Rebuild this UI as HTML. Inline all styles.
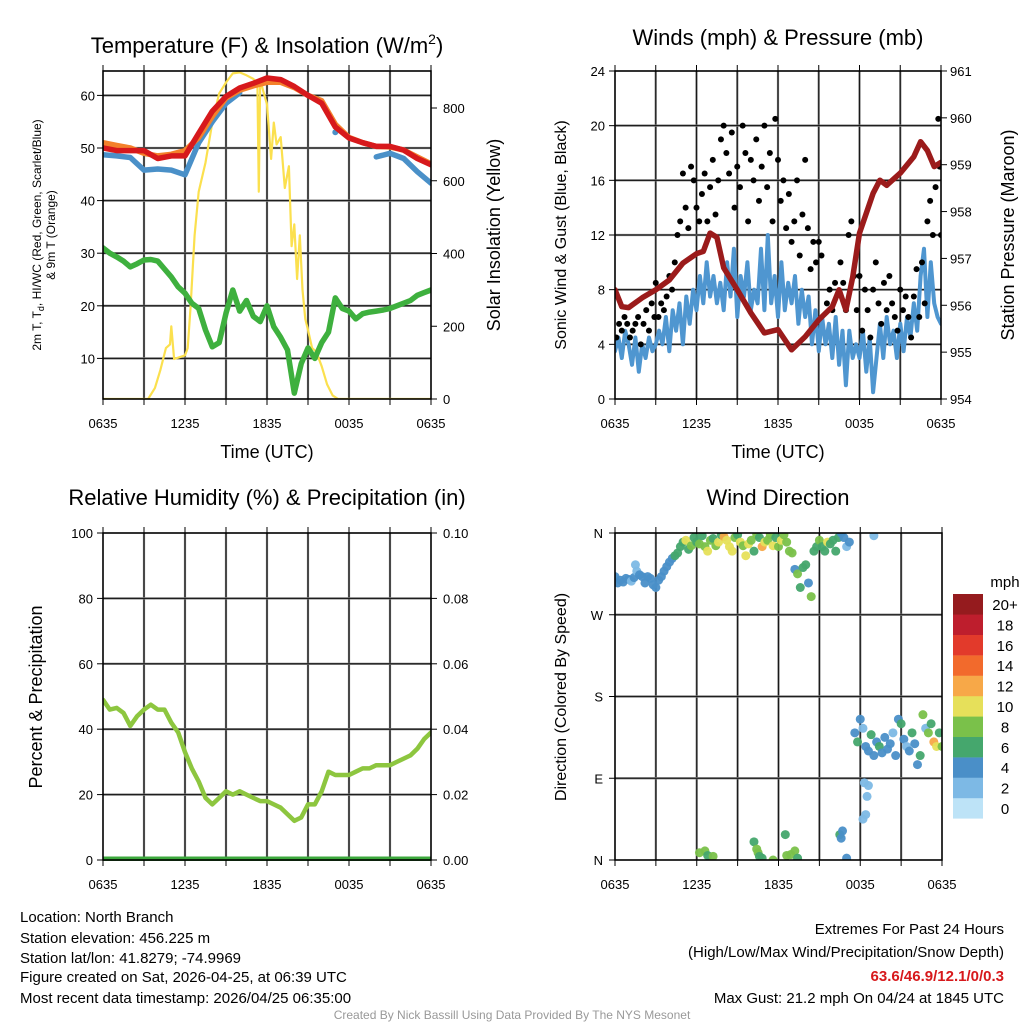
<!DOCTYPE html>
<html><head><meta charset="utf-8"><style>
html,body{margin:0;padding:0;background:#fff;}
svg{display:block;font-family:"Liberation Sans",Arial,sans-serif;}
</style></head><body>
<svg id="chart" width="1024" height="1024" viewBox="0 0 1024 1024" xmlns="http://www.w3.org/2000/svg">
<defs>
<clipPath id="c1"><rect x="103" y="71" width="328" height="328"/></clipPath>
<clipPath id="c2"><rect x="615" y="71" width="326" height="328"/></clipPath>
<clipPath id="c3"><rect x="103" y="533" width="328" height="328"/></clipPath>
<clipPath id="c4"><rect x="615" y="533" width="327" height="327"/></clipPath>
</defs>
<g id="layer"></g>
<text x="267" y="53" font-size="22" text-anchor="middle">Temperature (F) &amp; Insolation (W/m<tspan dy="-9" font-size="14">2</tspan><tspan dy="9">)</tspan></text>
<text x="778" y="45" font-size="22" text-anchor="middle">Winds (mph) &amp; Pressure (mb)</text>
<text x="267" y="505" font-size="22" text-anchor="middle">Relative Humidity (%) &amp; Precipitation (in)</text>
<text x="778" y="505" font-size="22" text-anchor="middle">Wind Direction</text>
<text x="267" y="458" font-size="18" text-anchor="middle">Time (UTC)</text>
<text x="778" y="458" font-size="18" text-anchor="middle">Time (UTC)</text>
<text transform="translate(41,235) rotate(-90)" font-size="12" text-anchor="middle">2m T, T<tspan dy="3" font-size="9">d</tspan><tspan dy="-3">, HI/WC (Red, Green, Scarlet/Blue)</tspan></text>
<text transform="translate(55,235) rotate(-90)" font-size="12" text-anchor="middle">&amp; 9m T (Orange)</text>
<text transform="translate(500,235) rotate(-90)" font-size="18" text-anchor="middle">Solar Insolation (Yellow)</text>
<text transform="translate(566,235) rotate(-90)" font-size="16" text-anchor="middle">Sonic Wind &amp; Gust (Blue, Black)</text>
<text transform="translate(1014,235) rotate(-90)" font-size="18" text-anchor="middle">Station Pressure (Maroon)</text>
<text transform="translate(42,697) rotate(-90)" font-size="18" text-anchor="middle">Percent &amp; Precipitation</text>
<text transform="translate(566,697) rotate(-90)" font-size="16" text-anchor="middle">Direction (Colored By Speed)</text>
<g font-size="15">
<text x="20" y="922">Location: North Branch</text>
<text x="20" y="943">Station elevation: 456.225 m</text>
<text x="20" y="963">Station lat/lon: 41.8279; -74.9969</text>
<text x="20" y="982">Figure created on Sat, 2026-04-25, at 06:39 UTC</text>
<text x="20" y="1003">Most recent data timestamp: 2026/04/25 06:35:00</text>
</g>
<g font-size="15" text-anchor="end">
<text x="1004" y="934">Extremes For Past 24 Hours</text>
<text x="1004" y="957">(High/Low/Max Wind/Precipitation/Snow Depth)</text>
<text x="1004" y="981" fill="#d7191c" font-weight="bold">63.6/46.9/12.1/0/0.3</text>
<text x="1004" y="1003">Max Gust: 21.2 mph On 04/24 at 1845 UTC</text>
</g>
<text x="512" y="1019" font-size="12" fill="#999" text-anchor="middle">Created By Nick Bassill Using Data Provided By The NYS Mesonet</text>
<text x="1005" y="587" font-size="15" text-anchor="middle">mph</text>
</svg>
<script>
const timeTickLabels = ["0635","1235","1835","0035","0635"];
const tempRed = [50,49.5,49.5,49.5,48,48.5,48.5,52.8,57,59.8,61.4,62.3,63.3,63,61.7,60,58.5,54,51.9,51,50.3,50.3,49.6,48,46.8];
const tempOrange = [51,50.5,50,49,48.5,48.8,49.5,52,56,59.5,61,61.8,62.5,62.5,61.5,60,59,54.5,52,51,50.3,50.2,49.6,48.3,47];
const windChillBlue = [48.7,48.5,48.2,45.8,46,45.8,44.9,51,55,58.5,60.5,null,null,null,null,null,null,53,null,null,48.3,49,48,45.5,43.3];
const dewGreen = [31,30,29.3,28.5,27.4,28,28.7,28.8,28.5,27,25.5,23.6,22.4,20.5,19.5,15.4,12.2,13,18.6,23,19,21,18,17,20,16,14,11.6,3.4,9,12,10,13,15,21.5,19.5,19,17.5,18.5,18.8,19,19.2,19.5,20,20.5,21,22,22.5,23];
const solarTimes = [0,3.3,3.8,4.2,4.6,4.9,5.0,5.2,5.6,6.0,6.2,6.4,6.7,7.0,7.5,8.0,8.5,9.0,9.5,10.0,10.5,11.0,11.3,11.4,11.5,11.7,12.0,12.3,12.5,12.7,13.0,13.3,13.6,13.8,14.0,14.2,14.4,14.6,14.8,15.0,15.3,15.6,16.0,16.4,16.8,17.2,24];
const solarValues = [0,0,30,80,140,150,200,110,115,120,140,250,450,570,650,760,840,870,895,898,890,880,870,570,880,850,810,660,760,700,720,580,640,420,480,330,450,300,220,190,140,130,90,40,10,0,0];
const tempTicks = [10,20,30,40,50,60];
const solarTicks = [0,200,400,600,800];
const windSonic = [3.5,4.5,3,5,4,2.5,4.5,2,4,3,4.5,3.5,4, 5,4,6,3.5,6.5,5,7,4,7.5,5.5,8, 6.5,9,7,10,7.5,9,7,8.5,6.5,10,7.5,11, 6,9,7.5,10,6.5,8,7,11,6.5,12,7,9, 6,10,6.5,8.5,7,9,5.5,8,6,7.5,4,6.5, 3.5,6,4,5.5,3,6,2.5,5,1,5,3,4, 3,5,2,4.5,0.5,3,5.5,3,6,4,5,3, 5.5,3.5,6,4.5,7,5,9,11,6,10,7,6,5.5];
const gustTimes = [0.1,0.3,0.5,0.7,0.9,1.1,1.3,1.5,1.7,1.9,2.1,2.3,2.5,2.7,2.9,3,3.2,3.4,3.6,3.8,4,4.2,4.4,4.6,4.8,5,5.2,5.4,5.6,5.8,6,6.2,6.4,6.6,6.8,7,7.2,7.4,7.6,7.8,8,8.2,8.4,8.6,8.8,9,9.2,9.4,9.6,9.8,10,10.2,10.4,10.6,10.8,11,11.2,11.4,11.6,11.8,12,12.2,12.4,12.6,12.8,13,13.2,13.4,13.6,13.8,14,14.2,14.4,14.6,14.8,15,15.2,15.6,15.8,16,16.2,16.6,16.8,17,17.2,17.4,17.6,17.8,18,18.2,18.4,18.6,18.8,19,19.2,19.4,19.6,19.8,20,20.2,20.4,20.6,20.8,21,21.2,21.4,21.6,21.8,22,22.2,22.4,22.6,22.8,23,23.2,23.4,23.6,23.8,23.9,24];
const gustValues = [4.5,5.5,5,6,5.5,4.5,5,5.5,6,4,5.5,6.5,5,7,6,8.5,6,7,6.5,7.5,9,8,10,12,13,16.5,14,12.5,17,16,14,13,15,16.5,13,15.5,17.5,13.5,16,19,20,18,16.5,19.5,14,17,15.5,20,18,13,17.5,16,19,14.5,17,20,15.5,18,13,20.5,17.5,14.5,16,12.5,15,11.5,13,16,10.5,13.5,17.5,12.5,9.5,11.5,10,11.5,10.5,7,8,6.5,8.5,10,8.5,6.5,12,13,9,6.5,9,5,8,6.5,4.5,8,10,7,5.5,8.5,6.5,9,7,6,5,8,6.5,7.5,6,4.5,7.5,9.5,6,10,7,13,14.5,12,15.5,20.5,17,12];
const presTimes = [0,0.5,1,2,3,4,5,6,6.5,7,7.5,8,9,10,11,12,13,14,15,16,16.5,17,17.5,18,19,19.5,20,21,22,22.5,23,23.5,24];
const presValues = [956.33,955.97,955.95,956.16,956.33,956.54,956.9,957.1,957.15,957.54,957.45,956.8,956.33,955.84,955.41,955.48,955.05,955.33,955.69,955.97,956.33,955.9,956.6,957.54,958.39,958.67,958.56,958.82,959.17,959.49,959.3,958.96,959.05];
const windTicks = [0,4,8,12,16,20,24];
const presTicks = [954,955,956,957,958,959,960,961];
const rhValues = [49,46,46.5,45,41,44,46,47.5,46,46,42,39,33,28,24,19,17,19,21,20,21,20,19,18,18,17,16,14,12,13,17,17,21,27,26,26,26,27,28,28,29,29,29,30,31,32,34,37,39];
const precipValues = [0,0,0,0,0,0,0,0,0,0,0,0,0,0,0,0,0,0,0,0,0,0,0,0,0];
const rhTicks = [0,20,40,60,80,100];
const precipTicks = ["0.00","0.02","0.04","0.06","0.08","0.10"];
const dirTimes = [0,0.2,0.4,0.6,0.8,1,1.2,1.4,1.5,1.6,1.8,2,2.2,2.4,2.6,2.8,3,3.2,3.4,3.6,3.8,4,4.2,4.4,4.6,
 4.8,5,5.2,5.4,5.6,5.8,6,6.2,6.4,6.6,6.8,7,7.2,7.4,7.6,7.8,8,8.2,8.4,8.6,8.8,9,9.2,9.4,9.6,9.8,10,10.2,10.4,10.6,10.8,11,11.2,11.4,11.6,11.8,12,12.2,12.4,12.6,12.8,
 13,13.2,13.4,13.6,13.8,14,14.2,14.4,14.6,14.8,15,15.2,15.4,15.6,15.8,16,16.2,16.4,16.6,16.8,17,17.2,19,
 6.2,6.6,6.8,7.2,10.2,10.4,10.5,10.6,10.8,11.6,12.5,12.6,12.9,13.2,13.4,16.5,16.6,16.7,17,18.2,18.4,18.5,18.6,18.3,
 17.6,17.8,18,18.2,18.4,18.6,18.8,19,19.2,19.4,19.6,19.8,20,20.2,20.4,20.6,20.8,21,21.2,21.4,21.6,21.8,22,22.2,22.4,22.6,22.8,23,23.2,23.4,23.6,23.8,24];
const dirValues = [312,305,308,306,310,309,307,311,325,318,314,312,305,312,310,303,300,308,312,318,323,328,332,335,338,
 345,350,352,342,346,355,350,348,357,345,340,352,354,346,350,358,356,352,345,340,355,358,350,346,335,348,352,340,358,355,345,350,352,358,346,355,345,352,358,350,340,
 338,320,315,300,322,325,305,290,340,345,352,345,340,350,348,352,340,355,360,355,345,350,357,
 8,10,5,4,20,12,8,4,2,0,28,5,6,10,2,28,24,32,2,45,50,70,82,85,
 140,130,155,145,125,120,138,115,130,125,118,135,122,128,140,115,155,150,133,125,120,140,128,105,115,160,145,140,150,130,125,140,125];
const dirSpeeds = [4,4,4,3,4,4,2,4,2,2,4,4,4,4,3,4,4,4,4,4,4,4,4,5,6,
 6,6,10,6,8,6,6,7,6,8,10,8,6,8,10,6,12,10,10,10,8,6,10,8,10,10,8,6,8,6,12,10,8,8,10,6,8,10,8,8,8,
 8,4,8,6,6,6,4,8,6,6,8,6,6,10,6,6,6,6,4,4,2,4,1,
 8,8,6,8,6,8,8,6,6,8,6,8,8,8,6,6,4,4,4,1,2,2,2,1,
 4,6,4,2,4,4,6,4,4,6,4,4,4,4,2,4,4,6,4,2,4,6,4,4,6,8,2,8,6,12,10,6,8];
const dirTickLabels = ["N","E","S","W","N"];
const speedBins = ["0","2","4","6","8","10","12","14","16","18","20+"];
const speedColors = ["#bde3f7","#7db9e5","#4a8fc8","#45a76d","#7ac14a","#e6e05a","#f7a848","#f26a2c","#e23a2b","#be1e2d","#951b1e"];

const NS = "http://www.w3.org/2000/svg";
const layer = document.getElementById("layer");
function mk(tag, attrs, parent){
  const e = document.createElementNS(NS, tag);
  for (const k in attrs) e.setAttribute(k, attrs[k]);
  (parent||layer).appendChild(e);
  return e;
}
function txt(x,y,s,size,anchor,parent){
  const t = mk("text",{x:x,y:y,"font-size":size,"text-anchor":anchor},parent);
  t.textContent = s;
  return t;
}
function colorFor(s){ let i = Math.min(10, Math.max(0, Math.round(s/2))); return speedColors[i]; }

const panels = [
  {id:"p1", x0:103, x1:431, y0:71, y1:399, clip:"c1"},
  {id:"p2", x0:615, x1:941, y0:71, y1:399, clip:"c2"},
  {id:"p3", x0:103, x1:431, y0:533, y1:860, clip:"c3"},
  {id:"p4", x0:615, x1:942, y0:533, y1:860, clip:"c4"}
];
function xs(p,t){ return p.x0 + (p.x1-p.x0)*t/24; }

function frame(p, hLines){
  const g = mk("g",{});
  
  
  for (let h=3; h<24; h+=3){
    const x = xs(p,h);
    mk("line",{x1:x,x2:x,y1:p.y0,y2:p.y1,stroke:"#777",  "stroke-width":2.2},g);
    mk("line",{x1:x,x2:x,y1:p.y0,y2:p.y1,stroke:"#000","stroke-width":0.8},g);
  }
  hLines.forEach(y=>{
    mk("line",{x1:p.x0,x2:p.x1,y1:y,y2:y,stroke:"#777","stroke-width":2.2},g);
    mk("line",{x1:p.x0,x2:p.x1,y1:y,y2:y,stroke:"#000","stroke-width":0.8},g);
  });
  const xl = mk("g",{"font-size":13});
  
  
  timeTickLabels.forEach((s,i)=>{ txt(xs(p,i*6), p.y1+29, s, 13, "middle", xl); });
  return g;
}
function border(p){
  const r = mk("rect",{x:p.x0,y:p.y0,width:p.x1-p.x0,height:p.y1-p.y0,fill:"none",stroke:"#000","stroke-width":1.6});
  
  
  for (let h=0; h<=24; h+=3){
    mk("line",{x1:xs(p,h),x2:xs(p,h),y1:p.y1,y2:p.y1+6,stroke:"#000","stroke-width":1});
    mk("line",{x1:xs(p,h),x2:xs(p,h),y1:p.y0,y2:p.y0-6,stroke:"#000","stroke-width":1});
  }
}
function poly(pts, attrs, clip, name){
  const d = pts.map((q,i)=>(i?"L":"M")+q[0].toFixed(1)+","+q[1].toFixed(1)).join("");
  const e = mk("path", Object.assign({d:d, fill:"none","stroke-linejoin":"round","stroke-linecap":"round","clip-path":"url(#"+clip+")"}, attrs));
  
  
  return e;
}

const P1 = panels[0];
const yT = v => 411 - 5.26*v;
const yS = v => 399 - 0.36375*v;
frame(P1, tempTicks.map(yT));
poly(solarTimes.map((t,i)=>[xs(P1,t), yS(solarValues[i])]), {stroke:"#fbe04e","stroke-width":2.2}, "c1", "solar-insolation-line");
poly(dewGreen.map((v,i)=>[xs(P1,i/2), yT(v)]), {stroke:"#3eb03e","stroke-width":5.5}, "c1", "dewpoint-line");
(function(){
  let seg = [];
  const segs = [];
  windChillBlue.forEach((v,i)=>{ if (v===null){ if(seg.length) segs.push(seg); seg=[]; } else seg.push([xs(P1,i), yT(v)]); });
  if (seg.length) segs.push(seg);
  segs.forEach((s,k)=>{
    if (s.length>1) poly(s, {stroke:"#4a90c8","stroke-width":5.5}, "c1", "wind-chill-line-" + k);
    else { const c = mk("circle",{cx:s[0][0],cy:s[0][1],r:3,fill:"#4a90c8"});
      
       }
  });
})();
poly(tempOrange.map((v,i)=>[xs(P1,i), yT(v)]), {stroke:"#f4812b","stroke-width":5.5}, "c1", "temp-9m-line");
poly(tempRed.map((v,i)=>[xs(P1,i), yT(v)]), {stroke:"#d7191c","stroke-width":5.5}, "c1", "temp-2m-line");
border(P1);
(function(){
  const g = mk("g",{"font-size":13});
  
  
  tempTicks.forEach(v=>{ txt(P1.x0-8, yT(v)+5, String(v), 13, "end", g); mk("line",{x1:P1.x0-6,x2:P1.x0,y1:yT(v),y2:yT(v),stroke:"#000"},g); });
  const g2 = mk("g",{"font-size":13});
  
  
  solarTicks.forEach(v=>{ txt(P1.x1+12, yS(v)+5, String(v), 13, "start", g2); mk("line",{x1:P1.x1,x2:P1.x1+6,y1:yS(v),y2:yS(v),stroke:"#000"},g2); });
})();

const P2 = panels[1];
const yW = v => 399 - 13.667*v;
const yP = v => 399 - (v-954)*46.86;
frame(P2, [4,8,12,16,20].map(yW));
poly(windSonic.map((v,i)=>[xs(P2, i*24/(windSonic.length-1)), yW(v)]), {stroke:"#4f96d0","stroke-width":4}, "c2", "sonic-wind-line");
(function(){
  const g = mk("g",{"clip-path":"url(#c2)"});
  
  
  gustTimes.forEach((t,i)=>{
    const c = mk("circle",{cx:xs(P2,t), cy:yW(gustValues[i]), r:3, fill:"#000"}, g);
    
    
  });
})();
poly(presTimes.map((t,i)=>[xs(P2,t), yP(presValues[i])]), {stroke:"#9b1b1b","stroke-width":5.5}, "c2", "pressure-line");
border(P2);
(function(){
  const g = mk("g",{});
  
  
  windTicks.forEach(v=>{ txt(P2.x0-10, yW(v)+5, String(v), 13, "end", g); mk("line",{x1:P2.x0-6,x2:P2.x0,y1:yW(v),y2:yW(v),stroke:"#000"},g); });
  const g2 = mk("g",{});
  
  
  presTicks.forEach(v=>{ txt(P2.x1+9, yP(v)+5, String(v), 13, "start", g2); mk("line",{x1:P2.x1,x2:P2.x1+6,y1:yP(v),y2:yP(v),stroke:"#000"},g2); });
})();

const P3 = panels[2];
const yR = v => 860 - 3.27*v;
const yPr = v => 860 - 3270*v;
frame(P3, [20,40,60,80].map(yR));
poly(rhValues.map((v,i)=>[xs(P3,i/2), yR(v)]), {stroke:"#8dc63f","stroke-width":4.5}, "c3", "humidity-line");
poly(precipValues.map((v,i)=>[xs(P3,i), yPr(v)]), {stroke:"#3ca83c","stroke-width":7,"stroke-linecap":"butt"}, "c3", "precipitation-line");
border(P3);
(function(){
  const g = mk("g",{});
  
  
  rhTicks.forEach(v=>{ txt(P3.x0-10, yR(v)+5, String(v), 13, "end", g); mk("line",{x1:P3.x0-6,x2:P3.x0,y1:yR(v),y2:yR(v),stroke:"#000"},g); });
  const g2 = mk("g",{});
  
  
  precipTicks.forEach((s,i)=>{ const y = yR(i*20); txt(P3.x1+12, y+5, s, 13, "start", g2); mk("line",{x1:P3.x1,x2:P3.x1+6,y1:y,y2:y,stroke:"#000"},g2); });
})();

const P4 = panels[3];
const yD = d => 860 - d*327/360;
frame(P4, [90,180,270].map(yD));
(function(){
  const g = mk("g",{"clip-path":"url(#c4)"});
  
  
  dirTimes.forEach((t,i)=>{
    const c = mk("circle",{cx:xs(P4,t), cy:yD(dirValues[i]), r:4.5, fill:colorFor(dirSpeeds[i]), "fill-opacity":0.95}, g);
    
    
  });
})();
border(P4);
(function(){
  const g = mk("g",{});
  
  
  dirTickLabels.forEach((s,i)=>{ const y = yD(i*90); txt(P4.x0-12, y+5, s, 13, "end", g); mk("line",{x1:P4.x0-6,x2:P4.x0,y1:y,y2:y,stroke:"#000"},g); });
  const cb = mk("g",{});
  
  
  speedBins.forEach((s,i)=>{
    const y = 594 + (10-i)*20.4;
    const r = mk("rect",{x:953,y:y,width:30,height:20.6,fill:speedColors[i]},cb);
    
    
    txt(1005, y+16, s, 15, "middle", cb);
  });
})();
</script>
</body></html>
